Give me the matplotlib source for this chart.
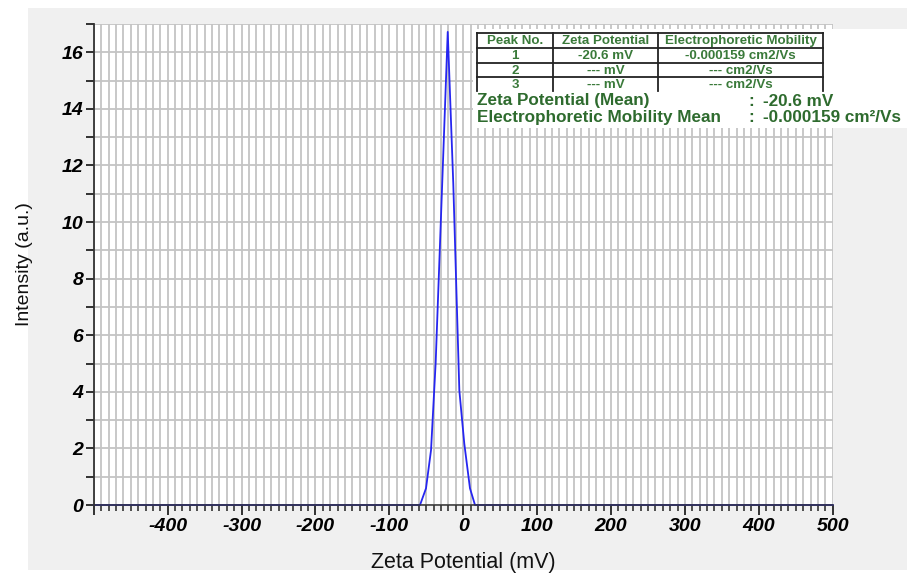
import matplotlib
matplotlib.use("Agg")
import matplotlib.pyplot as plt
from matplotlib.patches import Rectangle
from matplotlib.lines import Line2D
import numpy as np

# ---- data ----
zeta = [-500, -58.5, -50.4, -43.6, -37.3, -21.0, -13.5, -5.3, 1.4, 9.1, 15.9, 500]
intensity = [0, 0, 0.59, 1.94, 5.05, 16.72, 11.36, 4.05, 2.17, 0.59, 0, 0]

x_major = list(range(-500, 501, 100))
x_labels = [""] + [str(v) for v in range(-400, 501, 100)]
y_major = list(range(0, 18))
y_labels = [str(v) if v % 2 == 0 else "" for v in y_major]

table_header = ["Peak No.", "Zeta Potential", "Electrophoretic Mobility"]
table_rows = [["1", "-20.6 mV", "-0.000159 cm2/Vs"],
              ["2", "--- mV", "--- cm2/Vs"],
              ["3", "--- mV", "--- cm2/Vs"]]
mean_labels = ["Zeta Potential (Mean)", "Electrophoretic Mobility Mean"]
mean_values = ["-20.6 mV", "-0.000159 cm\u00b2/Vs"]

W, H = 907, 575
fig = plt.figure(figsize=(W / 100, H / 100), dpi=100, facecolor="white")

def fx(px):
    return px / W

def fy(py):
    return 1 - py / H

# grey panel
fig.patches.append(Rectangle((fx(28), fy(570)), fx(907) - fx(28), fy(8) - fy(570),
                             transform=fig.transFigure, facecolor="#f0f0f0",
                             edgecolor="none", zorder=-10))

L, R, T, B = 93.8, 832.7, 24, 505
ax = fig.add_axes([fx(L), fy(B), fx(R) - fx(L), fy(T) - fy(B)])
ax.set_facecolor("white")
ax.set_xlim(-500, 500)
ax.set_ylim(0, 17)

ax.plot(zeta, intensity, color="#2626f0", lw=1.3, zorder=2, clip_on=False)

ax.set_xticks(x_major)
ax.set_xticklabels(x_labels)
ax.set_xticks(np.arange(-500, 501, 10), minor=True)
ax.set_yticks(y_major)
ax.set_yticklabels(y_labels)

ax.grid(True, which="minor", axis="x", color="#c4c4c4", lw=1.3, zorder=0)
ax.grid(True, which="major", axis="x", color="#c4c4c4", lw=1.3, zorder=0)
ax.grid(True, which="major", axis="y", color="#c4c4c4", lw=1.3, zorder=0)
ax.set_axisbelow(True)

for s in ["top", "right"]:
    ax.spines[s].set_visible(False)
for s in ["left", "bottom"]:
    ax.spines[s].set_color("#333333")
    ax.spines[s].set_linewidth(1.3)
    ax.spines[s].set_zorder(3)
ax.spines["bottom"].set_linewidth(1.1)

tickfont = dict(family="Liberation Sans", weight="bold", style="italic", size=14)
ax.tick_params(axis="x", which="major", direction="out", length=7.5, width=1.3,
               color="#222222", pad=2)
ax.tick_params(axis="x", which="minor", direction="out", length=4, width=1.1,
               color="#222222")
ax.tick_params(axis="y", which="major", direction="out", length=5.5, width=1.3,
               color="#222222", pad=2)
for lab in ax.get_xticklabels() + ax.get_yticklabels():
    lab.set_fontproperties(matplotlib.font_manager.FontProperties(**tickfont))

ax.set_xlabel("Zeta Potential (mV)", family="Liberation Sans", size=15.5, color="#111111")
ax.set_ylabel("Intensity (a.u.)", family="Liberation Sans", size=14, color="#111111")
ax.xaxis.set_label_coords(0.5, (B - 552) / (B - T))
ax.yaxis.set_label_coords((33 - L) / (R - L), 0.5)

# ---- info box ----
fig.patches.append(Rectangle((fx(473), fy(128)), fx(907) - fx(473), fy(29) - fy(128),
                             transform=fig.transFigure, facecolor="white",
                             edgecolor="none", zorder=5))
green_t = "#3a7a3a"
green_m = "#2e6b2e"
cols = [477, 553, 658, 823]
hlines = [33, 48, 63, 77]
for yy in hlines:
    fig.lines.append(Line2D([fx(cols[0]), fx(cols[-1])], [fy(yy), fy(yy)],
                            transform=fig.transFigure, color="#222222", lw=1.3, zorder=6))
for xx in cols:
    fig.lines.append(Line2D([fx(xx), fx(xx)], [fy(33), fy(91)],
                            transform=fig.transFigure, color="#222222", lw=1.3, zorder=6))
centers_x = [(cols[i] + cols[i + 1]) / 2 for i in range(3)]
row_y = [41, 56, 70.5, 84.5]
tfont = dict(family="Liberation Sans", weight="bold", size=9.6, color=green_t, zorder=7,
             ha="center", va="center")
for i, txt in enumerate(table_header):
    fig.text(fx(centers_x[i]), fy(row_y[0]), txt, **tfont)
for r, row in enumerate(table_rows):
    for i, txt in enumerate(row):
        fig.text(fx(centers_x[i]), fy(row_y[r + 1]), txt, **tfont)

mfont = dict(family="Liberation Sans", weight="bold", size=12.3, color=green_m, zorder=7,
             va="center")
mean_y = [101, 117.5]
for lab, val, yy in zip(mean_labels, mean_values, mean_y):
    fig.text(fx(477), fy(yy), lab, ha="left", **mfont)
    fig.text(fx(748), fy(yy), ":", ha="left", **mfont)
    fig.text(fx(763), fy(yy), val, ha="left", **mfont)

fig.savefig("out.png", dpi=100, facecolor=fig.get_facecolor())
